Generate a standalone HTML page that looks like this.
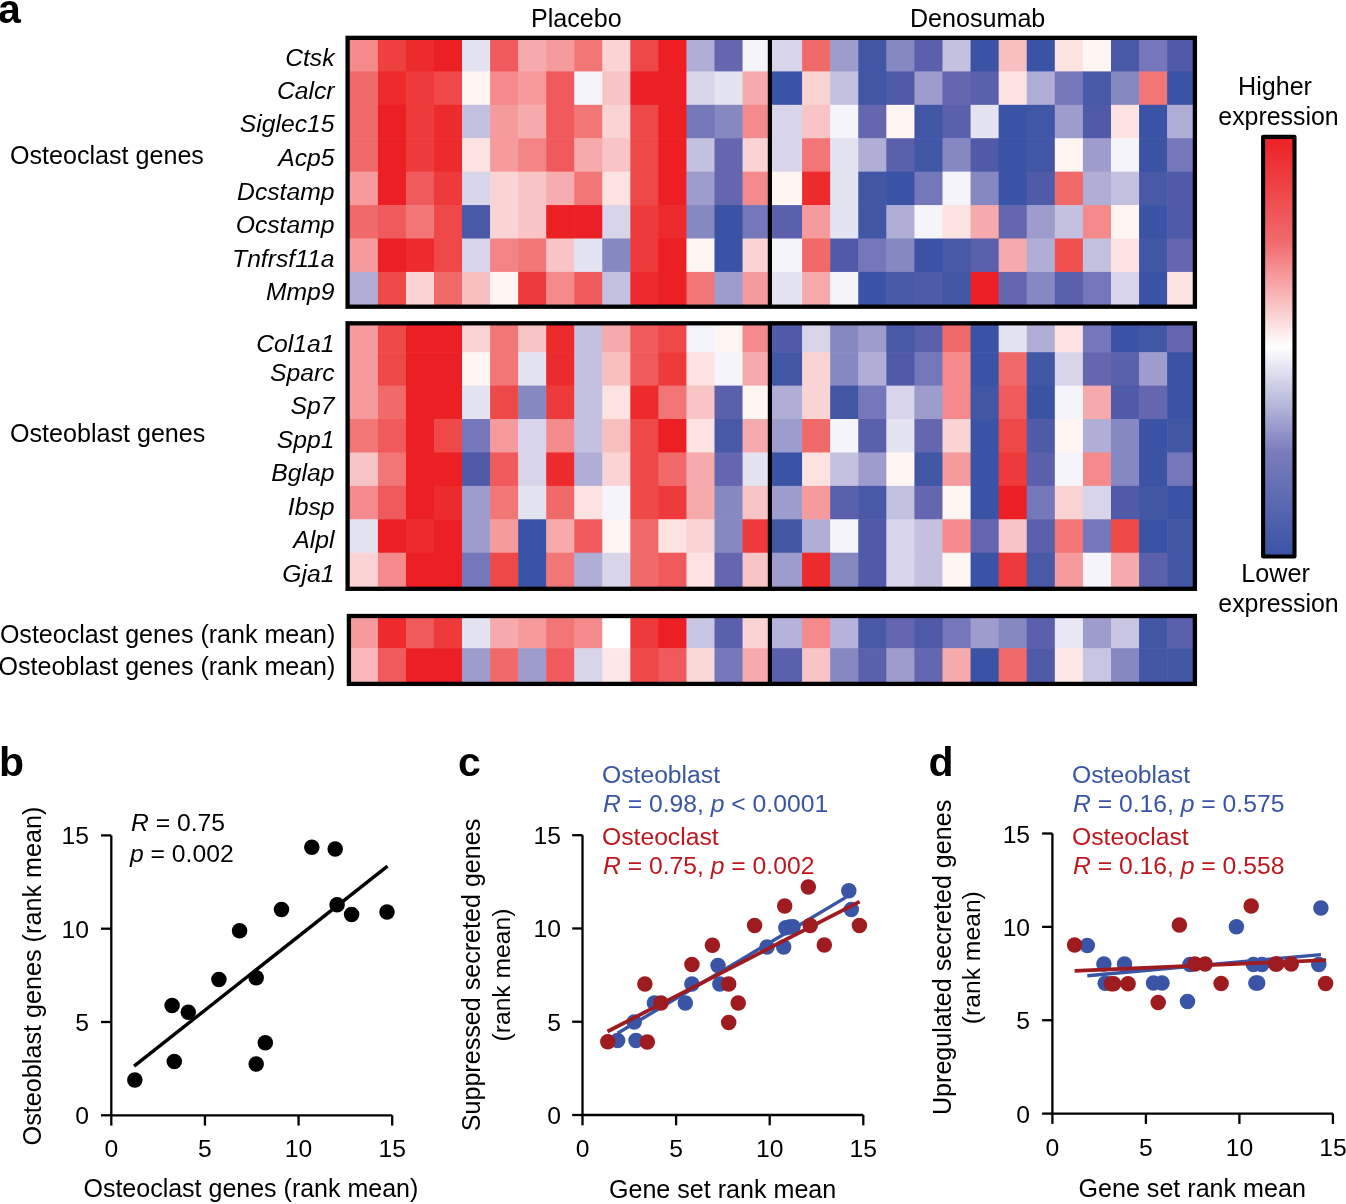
<!DOCTYPE html>
<html><head><meta charset="utf-8"><title>Figure</title>
<style>html,body{margin:0;padding:0;background:#fff;width:1346px;height:1204px;overflow:hidden;position:relative}svg text{font-family:"Liberation Sans",sans-serif}</style>
</head><body>
<svg width="1346" height="1204" viewBox="0 0 1346 1204" style="position:absolute;left:0;top:0;will-change:transform" font-family='"Liberation Sans", sans-serif' font-size="24.7">
<rect width="1346" height="1204" fill="#fff"/>
<rect x="347.00" y="38.00" width="31.50" height="34.00" fill="#f48a8c"/>
<rect x="377.90" y="38.00" width="28.65" height="34.00" fill="#ef4040"/>
<rect x="405.95" y="38.00" width="28.65" height="34.00" fill="#ed2a2c"/>
<rect x="434.00" y="38.00" width="28.65" height="34.00" fill="#ec2024"/>
<rect x="462.05" y="38.00" width="28.65" height="34.00" fill="#e4e3f2"/>
<rect x="490.10" y="38.00" width="28.65" height="34.00" fill="#f05a5c"/>
<rect x="518.15" y="38.00" width="28.65" height="34.00" fill="#f6aaac"/>
<rect x="546.20" y="38.00" width="28.65" height="34.00" fill="#f59b9d"/>
<rect x="574.25" y="38.00" width="28.65" height="34.00" fill="#f27676"/>
<rect x="602.30" y="38.00" width="28.65" height="34.00" fill="#fad4d4"/>
<rect x="630.35" y="38.00" width="28.65" height="34.00" fill="#ef4848"/>
<rect x="658.40" y="38.00" width="28.65" height="34.00" fill="#ec2024"/>
<rect x="686.45" y="38.00" width="28.65" height="34.00" fill="#b0aed6"/>
<rect x="714.50" y="38.00" width="28.65" height="34.00" fill="#6466b0"/>
<rect x="742.55" y="38.00" width="29.45" height="34.00" fill="#f5f4fa"/>
<rect x="768.00" y="38.00" width="34.70" height="34.00" fill="#d8d5ea"/>
<rect x="802.10" y="38.00" width="28.68" height="34.00" fill="#f06a6a"/>
<rect x="830.18" y="38.00" width="28.68" height="34.00" fill="#9e9ccc"/>
<rect x="858.26" y="38.00" width="28.68" height="34.00" fill="#4256a6"/>
<rect x="886.34" y="38.00" width="28.68" height="34.00" fill="#8688c2"/>
<rect x="914.42" y="38.00" width="28.68" height="34.00" fill="#5a60ac"/>
<rect x="942.50" y="38.00" width="28.68" height="34.00" fill="#c4c0df"/>
<rect x="970.58" y="38.00" width="28.68" height="34.00" fill="#3a53a4"/>
<rect x="998.66" y="38.00" width="28.68" height="34.00" fill="#f8bfc1"/>
<rect x="1026.74" y="38.00" width="28.68" height="34.00" fill="#3a53a4"/>
<rect x="1054.82" y="38.00" width="28.68" height="34.00" fill="#fde2e2"/>
<rect x="1082.90" y="38.00" width="28.68" height="34.00" fill="#fff5f3"/>
<rect x="1110.98" y="38.00" width="28.68" height="34.00" fill="#4a58a8"/>
<rect x="1139.06" y="38.00" width="28.68" height="34.00" fill="#7477b9"/>
<rect x="1167.14" y="38.00" width="27.86" height="34.00" fill="#4f5aa9"/>
<rect x="347.00" y="71.40" width="31.50" height="34.02" fill="#f06a6a"/>
<rect x="377.90" y="71.40" width="28.65" height="34.02" fill="#ed2a2c"/>
<rect x="405.95" y="71.40" width="28.65" height="34.02" fill="#ee3a3a"/>
<rect x="434.00" y="71.40" width="28.65" height="34.02" fill="#ef4848"/>
<rect x="462.05" y="71.40" width="28.65" height="34.02" fill="#fff5f3"/>
<rect x="490.10" y="71.40" width="28.65" height="34.02" fill="#f48a8c"/>
<rect x="518.15" y="71.40" width="28.65" height="34.02" fill="#f59b9d"/>
<rect x="546.20" y="71.40" width="28.65" height="34.02" fill="#f05a5c"/>
<rect x="574.25" y="71.40" width="28.65" height="34.02" fill="#f5f4fa"/>
<rect x="602.30" y="71.40" width="28.65" height="34.02" fill="#f8c4c5"/>
<rect x="630.35" y="71.40" width="28.65" height="34.02" fill="#ec2024"/>
<rect x="658.40" y="71.40" width="28.65" height="34.02" fill="#ec2024"/>
<rect x="686.45" y="71.40" width="28.65" height="34.02" fill="#d8d5ea"/>
<rect x="714.50" y="71.40" width="28.65" height="34.02" fill="#e4e3f2"/>
<rect x="742.55" y="71.40" width="29.45" height="34.02" fill="#f6aaac"/>
<rect x="768.00" y="71.40" width="34.70" height="34.02" fill="#3a53a4"/>
<rect x="802.10" y="71.40" width="28.68" height="34.02" fill="#fad4d4"/>
<rect x="830.18" y="71.40" width="28.68" height="34.02" fill="#c4c0df"/>
<rect x="858.26" y="71.40" width="28.68" height="34.02" fill="#4256a6"/>
<rect x="886.34" y="71.40" width="28.68" height="34.02" fill="#4f5aa9"/>
<rect x="914.42" y="71.40" width="28.68" height="34.02" fill="#9e9ccc"/>
<rect x="942.50" y="71.40" width="28.68" height="34.02" fill="#6466b0"/>
<rect x="970.58" y="71.40" width="28.68" height="34.02" fill="#5a60ac"/>
<rect x="998.66" y="71.40" width="28.68" height="34.02" fill="#fde2e2"/>
<rect x="1026.74" y="71.40" width="28.68" height="34.02" fill="#b0aed6"/>
<rect x="1054.82" y="71.40" width="28.68" height="34.02" fill="#7477b9"/>
<rect x="1082.90" y="71.40" width="28.68" height="34.02" fill="#4a58a8"/>
<rect x="1110.98" y="71.40" width="28.68" height="34.02" fill="#8688c2"/>
<rect x="1139.06" y="71.40" width="28.68" height="34.02" fill="#f27676"/>
<rect x="1167.14" y="71.40" width="27.86" height="34.02" fill="#3a53a4"/>
<rect x="347.00" y="104.82" width="31.50" height="34.02" fill="#f06a6a"/>
<rect x="377.90" y="104.82" width="28.65" height="34.02" fill="#ec2024"/>
<rect x="405.95" y="104.82" width="28.65" height="34.02" fill="#ee3a3a"/>
<rect x="434.00" y="104.82" width="28.65" height="34.02" fill="#ed2a2c"/>
<rect x="462.05" y="104.82" width="28.65" height="34.02" fill="#c4c0df"/>
<rect x="490.10" y="104.82" width="28.65" height="34.02" fill="#f59b9d"/>
<rect x="518.15" y="104.82" width="28.65" height="34.02" fill="#f6aaac"/>
<rect x="546.20" y="104.82" width="28.65" height="34.02" fill="#f05a5c"/>
<rect x="574.25" y="104.82" width="28.65" height="34.02" fill="#f27676"/>
<rect x="602.30" y="104.82" width="28.65" height="34.02" fill="#fad4d4"/>
<rect x="630.35" y="104.82" width="28.65" height="34.02" fill="#ef4848"/>
<rect x="658.40" y="104.82" width="28.65" height="34.02" fill="#ec2024"/>
<rect x="686.45" y="104.82" width="28.65" height="34.02" fill="#7477b9"/>
<rect x="714.50" y="104.82" width="28.65" height="34.02" fill="#8688c2"/>
<rect x="742.55" y="104.82" width="29.45" height="34.02" fill="#f48a8c"/>
<rect x="768.00" y="104.82" width="34.70" height="34.02" fill="#d8d5ea"/>
<rect x="802.10" y="104.82" width="28.68" height="34.02" fill="#f8c4c5"/>
<rect x="830.18" y="104.82" width="28.68" height="34.02" fill="#f5f4fa"/>
<rect x="858.26" y="104.82" width="28.68" height="34.02" fill="#6466b0"/>
<rect x="886.34" y="104.82" width="28.68" height="34.02" fill="#fff5f3"/>
<rect x="914.42" y="104.82" width="28.68" height="34.02" fill="#4256a6"/>
<rect x="942.50" y="104.82" width="28.68" height="34.02" fill="#5a60ac"/>
<rect x="970.58" y="104.82" width="28.68" height="34.02" fill="#e4e3f2"/>
<rect x="998.66" y="104.82" width="28.68" height="34.02" fill="#3a53a4"/>
<rect x="1026.74" y="104.82" width="28.68" height="34.02" fill="#4256a6"/>
<rect x="1054.82" y="104.82" width="28.68" height="34.02" fill="#9e9ccc"/>
<rect x="1082.90" y="104.82" width="28.68" height="34.02" fill="#4f5aa9"/>
<rect x="1110.98" y="104.82" width="28.68" height="34.02" fill="#fde2e2"/>
<rect x="1139.06" y="104.82" width="28.68" height="34.02" fill="#3a53a4"/>
<rect x="1167.14" y="104.82" width="27.86" height="34.02" fill="#b0aed6"/>
<rect x="347.00" y="138.24" width="31.50" height="34.02" fill="#f06a6a"/>
<rect x="377.90" y="138.24" width="28.65" height="34.02" fill="#ec2024"/>
<rect x="405.95" y="138.24" width="28.65" height="34.02" fill="#ee3a3a"/>
<rect x="434.00" y="138.24" width="28.65" height="34.02" fill="#ed2a2c"/>
<rect x="462.05" y="138.24" width="28.65" height="34.02" fill="#fde2e2"/>
<rect x="490.10" y="138.24" width="28.65" height="34.02" fill="#f59b9d"/>
<rect x="518.15" y="138.24" width="28.65" height="34.02" fill="#f38485"/>
<rect x="546.20" y="138.24" width="28.65" height="34.02" fill="#f05a5c"/>
<rect x="574.25" y="138.24" width="28.65" height="34.02" fill="#f6aaac"/>
<rect x="602.30" y="138.24" width="28.65" height="34.02" fill="#f8c4c5"/>
<rect x="630.35" y="138.24" width="28.65" height="34.02" fill="#ef4848"/>
<rect x="658.40" y="138.24" width="28.65" height="34.02" fill="#ec2024"/>
<rect x="686.45" y="138.24" width="28.65" height="34.02" fill="#c4c0df"/>
<rect x="714.50" y="138.24" width="28.65" height="34.02" fill="#6466b0"/>
<rect x="742.55" y="138.24" width="29.45" height="34.02" fill="#fad4d4"/>
<rect x="768.00" y="138.24" width="34.70" height="34.02" fill="#d8d5ea"/>
<rect x="802.10" y="138.24" width="28.68" height="34.02" fill="#f27676"/>
<rect x="830.18" y="138.24" width="28.68" height="34.02" fill="#e4e3f2"/>
<rect x="858.26" y="138.24" width="28.68" height="34.02" fill="#b0aed6"/>
<rect x="886.34" y="138.24" width="28.68" height="34.02" fill="#5a60ac"/>
<rect x="914.42" y="138.24" width="28.68" height="34.02" fill="#4256a6"/>
<rect x="942.50" y="138.24" width="28.68" height="34.02" fill="#8688c2"/>
<rect x="970.58" y="138.24" width="28.68" height="34.02" fill="#4f5aa9"/>
<rect x="998.66" y="138.24" width="28.68" height="34.02" fill="#3a53a4"/>
<rect x="1026.74" y="138.24" width="28.68" height="34.02" fill="#4256a6"/>
<rect x="1054.82" y="138.24" width="28.68" height="34.02" fill="#fff5f3"/>
<rect x="1082.90" y="138.24" width="28.68" height="34.02" fill="#9e9ccc"/>
<rect x="1110.98" y="138.24" width="28.68" height="34.02" fill="#f5f4fa"/>
<rect x="1139.06" y="138.24" width="28.68" height="34.02" fill="#3a53a4"/>
<rect x="1167.14" y="138.24" width="27.86" height="34.02" fill="#7477b9"/>
<rect x="347.00" y="171.66" width="31.50" height="34.02" fill="#f59b9d"/>
<rect x="377.90" y="171.66" width="28.65" height="34.02" fill="#ec2024"/>
<rect x="405.95" y="171.66" width="28.65" height="34.02" fill="#f05a5c"/>
<rect x="434.00" y="171.66" width="28.65" height="34.02" fill="#ee3a3a"/>
<rect x="462.05" y="171.66" width="28.65" height="34.02" fill="#d8d5ea"/>
<rect x="490.10" y="171.66" width="28.65" height="34.02" fill="#fad4d4"/>
<rect x="518.15" y="171.66" width="28.65" height="34.02" fill="#f8c4c5"/>
<rect x="546.20" y="171.66" width="28.65" height="34.02" fill="#f6adaf"/>
<rect x="574.25" y="171.66" width="28.65" height="34.02" fill="#f27676"/>
<rect x="602.30" y="171.66" width="28.65" height="34.02" fill="#fde2e2"/>
<rect x="630.35" y="171.66" width="28.65" height="34.02" fill="#ef4848"/>
<rect x="658.40" y="171.66" width="28.65" height="34.02" fill="#ec2024"/>
<rect x="686.45" y="171.66" width="28.65" height="34.02" fill="#9e9ccc"/>
<rect x="714.50" y="171.66" width="28.65" height="34.02" fill="#6466b0"/>
<rect x="742.55" y="171.66" width="29.45" height="34.02" fill="#f48a8c"/>
<rect x="768.00" y="171.66" width="34.70" height="34.02" fill="#fff5f3"/>
<rect x="802.10" y="171.66" width="28.68" height="34.02" fill="#ed2a2c"/>
<rect x="830.18" y="171.66" width="28.68" height="34.02" fill="#e4e3f2"/>
<rect x="858.26" y="171.66" width="28.68" height="34.02" fill="#4256a6"/>
<rect x="886.34" y="171.66" width="28.68" height="34.02" fill="#3a53a4"/>
<rect x="914.42" y="171.66" width="28.68" height="34.02" fill="#7477b9"/>
<rect x="942.50" y="171.66" width="28.68" height="34.02" fill="#f5f4fa"/>
<rect x="970.58" y="171.66" width="28.68" height="34.02" fill="#8688c2"/>
<rect x="998.66" y="171.66" width="28.68" height="34.02" fill="#3a53a4"/>
<rect x="1026.74" y="171.66" width="28.68" height="34.02" fill="#4f5aa9"/>
<rect x="1054.82" y="171.66" width="28.68" height="34.02" fill="#f06a6a"/>
<rect x="1082.90" y="171.66" width="28.68" height="34.02" fill="#b0aed6"/>
<rect x="1110.98" y="171.66" width="28.68" height="34.02" fill="#c4c0df"/>
<rect x="1139.06" y="171.66" width="28.68" height="34.02" fill="#4a58a8"/>
<rect x="1167.14" y="171.66" width="27.86" height="34.02" fill="#4f5aa9"/>
<rect x="347.00" y="205.08" width="31.50" height="34.02" fill="#f06a6a"/>
<rect x="377.90" y="205.08" width="28.65" height="34.02" fill="#f05a5c"/>
<rect x="405.95" y="205.08" width="28.65" height="34.02" fill="#f27676"/>
<rect x="434.00" y="205.08" width="28.65" height="34.02" fill="#ef4848"/>
<rect x="462.05" y="205.08" width="28.65" height="34.02" fill="#4a58a8"/>
<rect x="490.10" y="205.08" width="28.65" height="34.02" fill="#fad4d4"/>
<rect x="518.15" y="205.08" width="28.65" height="34.02" fill="#f8c4c5"/>
<rect x="546.20" y="205.08" width="28.65" height="34.02" fill="#ec2024"/>
<rect x="574.25" y="205.08" width="28.65" height="34.02" fill="#ec2024"/>
<rect x="602.30" y="205.08" width="28.65" height="34.02" fill="#d8d5ea"/>
<rect x="630.35" y="205.08" width="28.65" height="34.02" fill="#ee3a3a"/>
<rect x="658.40" y="205.08" width="28.65" height="34.02" fill="#ed2a2c"/>
<rect x="686.45" y="205.08" width="28.65" height="34.02" fill="#8688c2"/>
<rect x="714.50" y="205.08" width="28.65" height="34.02" fill="#3a53a4"/>
<rect x="742.55" y="205.08" width="29.45" height="34.02" fill="#7477b9"/>
<rect x="768.00" y="205.08" width="34.70" height="34.02" fill="#5a60ac"/>
<rect x="802.10" y="205.08" width="28.68" height="34.02" fill="#f59b9d"/>
<rect x="830.18" y="205.08" width="28.68" height="34.02" fill="#e4e3f2"/>
<rect x="858.26" y="205.08" width="28.68" height="34.02" fill="#4256a6"/>
<rect x="886.34" y="205.08" width="28.68" height="34.02" fill="#b0aed6"/>
<rect x="914.42" y="205.08" width="28.68" height="34.02" fill="#f5f4fa"/>
<rect x="942.50" y="205.08" width="28.68" height="34.02" fill="#fde2e2"/>
<rect x="970.58" y="205.08" width="28.68" height="34.02" fill="#f6aaac"/>
<rect x="998.66" y="205.08" width="28.68" height="34.02" fill="#6466b0"/>
<rect x="1026.74" y="205.08" width="28.68" height="34.02" fill="#9e9ccc"/>
<rect x="1054.82" y="205.08" width="28.68" height="34.02" fill="#c4c0df"/>
<rect x="1082.90" y="205.08" width="28.68" height="34.02" fill="#f48a8c"/>
<rect x="1110.98" y="205.08" width="28.68" height="34.02" fill="#fff5f3"/>
<rect x="1139.06" y="205.08" width="28.68" height="34.02" fill="#3a53a4"/>
<rect x="1167.14" y="205.08" width="27.86" height="34.02" fill="#4f5aa9"/>
<rect x="347.00" y="238.50" width="31.50" height="34.02" fill="#f59b9d"/>
<rect x="377.90" y="238.50" width="28.65" height="34.02" fill="#ec2024"/>
<rect x="405.95" y="238.50" width="28.65" height="34.02" fill="#ed2a2c"/>
<rect x="434.00" y="238.50" width="28.65" height="34.02" fill="#ef4848"/>
<rect x="462.05" y="238.50" width="28.65" height="34.02" fill="#d8d5ea"/>
<rect x="490.10" y="238.50" width="28.65" height="34.02" fill="#f38485"/>
<rect x="518.15" y="238.50" width="28.65" height="34.02" fill="#f27676"/>
<rect x="546.20" y="238.50" width="28.65" height="34.02" fill="#f8c4c5"/>
<rect x="574.25" y="238.50" width="28.65" height="34.02" fill="#e4e3f2"/>
<rect x="602.30" y="238.50" width="28.65" height="34.02" fill="#8688c2"/>
<rect x="630.35" y="238.50" width="28.65" height="34.02" fill="#ee3a3a"/>
<rect x="658.40" y="238.50" width="28.65" height="34.02" fill="#ec2024"/>
<rect x="686.45" y="238.50" width="28.65" height="34.02" fill="#fff5f3"/>
<rect x="714.50" y="238.50" width="28.65" height="34.02" fill="#3a53a4"/>
<rect x="742.55" y="238.50" width="29.45" height="34.02" fill="#fad4d4"/>
<rect x="768.00" y="238.50" width="34.70" height="34.02" fill="#f5f4fa"/>
<rect x="802.10" y="238.50" width="28.68" height="34.02" fill="#f06a6a"/>
<rect x="830.18" y="238.50" width="28.68" height="34.02" fill="#4f5aa9"/>
<rect x="858.26" y="238.50" width="28.68" height="34.02" fill="#7477b9"/>
<rect x="886.34" y="238.50" width="28.68" height="34.02" fill="#8688c2"/>
<rect x="914.42" y="238.50" width="28.68" height="34.02" fill="#3a53a4"/>
<rect x="942.50" y="238.50" width="28.68" height="34.02" fill="#4a58a8"/>
<rect x="970.58" y="238.50" width="28.68" height="34.02" fill="#5a60ac"/>
<rect x="998.66" y="238.50" width="28.68" height="34.02" fill="#f6aaac"/>
<rect x="1026.74" y="238.50" width="28.68" height="34.02" fill="#b0aed6"/>
<rect x="1054.82" y="238.50" width="28.68" height="34.02" fill="#f05050"/>
<rect x="1082.90" y="238.50" width="28.68" height="34.02" fill="#c4c0df"/>
<rect x="1110.98" y="238.50" width="28.68" height="34.02" fill="#fde2e2"/>
<rect x="1139.06" y="238.50" width="28.68" height="34.02" fill="#4256a6"/>
<rect x="1167.14" y="238.50" width="27.86" height="34.02" fill="#6466b0"/>
<rect x="347.00" y="271.92" width="31.50" height="34.08" fill="#b0aed6"/>
<rect x="377.90" y="271.92" width="28.65" height="34.08" fill="#ef4848"/>
<rect x="405.95" y="271.92" width="28.65" height="34.08" fill="#fad4d4"/>
<rect x="434.00" y="271.92" width="28.65" height="34.08" fill="#f06a6a"/>
<rect x="462.05" y="271.92" width="28.65" height="34.08" fill="#f8bfc1"/>
<rect x="490.10" y="271.92" width="28.65" height="34.08" fill="#fff5f3"/>
<rect x="518.15" y="271.92" width="28.65" height="34.08" fill="#ee3a3a"/>
<rect x="546.20" y="271.92" width="28.65" height="34.08" fill="#f48a8c"/>
<rect x="574.25" y="271.92" width="28.65" height="34.08" fill="#f05a5c"/>
<rect x="602.30" y="271.92" width="28.65" height="34.08" fill="#c4c0df"/>
<rect x="630.35" y="271.92" width="28.65" height="34.08" fill="#ed2a2c"/>
<rect x="658.40" y="271.92" width="28.65" height="34.08" fill="#ec2024"/>
<rect x="686.45" y="271.92" width="28.65" height="34.08" fill="#f27676"/>
<rect x="714.50" y="271.92" width="28.65" height="34.08" fill="#9e9ccc"/>
<rect x="742.55" y="271.92" width="29.45" height="34.08" fill="#f59b9d"/>
<rect x="768.00" y="271.92" width="34.70" height="34.08" fill="#e4e3f2"/>
<rect x="802.10" y="271.92" width="28.68" height="34.08" fill="#f6aaac"/>
<rect x="830.18" y="271.92" width="28.68" height="34.08" fill="#f5f4fa"/>
<rect x="858.26" y="271.92" width="28.68" height="34.08" fill="#3a53a4"/>
<rect x="886.34" y="271.92" width="28.68" height="34.08" fill="#4a58a8"/>
<rect x="914.42" y="271.92" width="28.68" height="34.08" fill="#4f5aa9"/>
<rect x="942.50" y="271.92" width="28.68" height="34.08" fill="#4256a6"/>
<rect x="970.58" y="271.92" width="28.68" height="34.08" fill="#ec2024"/>
<rect x="998.66" y="271.92" width="28.68" height="34.08" fill="#6466b0"/>
<rect x="1026.74" y="271.92" width="28.68" height="34.08" fill="#8688c2"/>
<rect x="1054.82" y="271.92" width="28.68" height="34.08" fill="#5a60ac"/>
<rect x="1082.90" y="271.92" width="28.68" height="34.08" fill="#7477b9"/>
<rect x="1110.98" y="271.92" width="28.68" height="34.08" fill="#d8d5ea"/>
<rect x="1139.06" y="271.92" width="28.68" height="34.08" fill="#3a53a4"/>
<rect x="1167.14" y="271.92" width="27.86" height="34.08" fill="#fde2e2"/>
<rect x="347.60" y="37.85" width="847.30" height="268.85" fill="none" stroke="#000" stroke-width="4.3"/>
<line x1="769.9" y1="37.85" x2="769.9" y2="306.70" stroke="#000" stroke-width="4.2"/>
<rect x="347.00" y="323.00" width="31.50" height="29.80" fill="#f59b9d"/>
<rect x="377.90" y="323.00" width="28.65" height="29.80" fill="#ef4848"/>
<rect x="405.95" y="323.00" width="28.65" height="29.80" fill="#ec2024"/>
<rect x="434.00" y="323.00" width="28.65" height="29.80" fill="#ec2024"/>
<rect x="462.05" y="323.00" width="28.65" height="29.80" fill="#fad4d4"/>
<rect x="490.10" y="323.00" width="28.65" height="29.80" fill="#f27676"/>
<rect x="518.15" y="323.00" width="28.65" height="29.80" fill="#f8c4c5"/>
<rect x="546.20" y="323.00" width="28.65" height="29.80" fill="#ed2a2c"/>
<rect x="574.25" y="323.00" width="28.65" height="29.80" fill="#c4c0df"/>
<rect x="602.30" y="323.00" width="28.65" height="29.80" fill="#f6aaac"/>
<rect x="630.35" y="323.00" width="28.65" height="29.80" fill="#f05a5c"/>
<rect x="658.40" y="323.00" width="28.65" height="29.80" fill="#ef4848"/>
<rect x="686.45" y="323.00" width="28.65" height="29.80" fill="#f5f4fa"/>
<rect x="714.50" y="323.00" width="28.65" height="29.80" fill="#fff5f3"/>
<rect x="742.55" y="323.00" width="29.45" height="29.80" fill="#f48a8c"/>
<rect x="768.00" y="323.00" width="34.70" height="29.80" fill="#4f5aa9"/>
<rect x="802.10" y="323.00" width="28.68" height="29.80" fill="#d8d5ea"/>
<rect x="830.18" y="323.00" width="28.68" height="29.80" fill="#8688c2"/>
<rect x="858.26" y="323.00" width="28.68" height="29.80" fill="#9e9ccc"/>
<rect x="886.34" y="323.00" width="28.68" height="29.80" fill="#4a58a8"/>
<rect x="914.42" y="323.00" width="28.68" height="29.80" fill="#5a60ac"/>
<rect x="942.50" y="323.00" width="28.68" height="29.80" fill="#f06a6a"/>
<rect x="970.58" y="323.00" width="28.68" height="29.80" fill="#3a53a4"/>
<rect x="998.66" y="323.00" width="28.68" height="29.80" fill="#e4e3f2"/>
<rect x="1026.74" y="323.00" width="28.68" height="29.80" fill="#b0aed6"/>
<rect x="1054.82" y="323.00" width="28.68" height="29.80" fill="#fde2e2"/>
<rect x="1082.90" y="323.00" width="28.68" height="29.80" fill="#7477b9"/>
<rect x="1110.98" y="323.00" width="28.68" height="29.80" fill="#3a53a4"/>
<rect x="1139.06" y="323.00" width="28.68" height="29.80" fill="#4256a6"/>
<rect x="1167.14" y="323.00" width="27.86" height="29.80" fill="#6466b0"/>
<rect x="347.00" y="352.20" width="31.50" height="34.02" fill="#f59b9d"/>
<rect x="377.90" y="352.20" width="28.65" height="34.02" fill="#ef4848"/>
<rect x="405.95" y="352.20" width="28.65" height="34.02" fill="#ec2024"/>
<rect x="434.00" y="352.20" width="28.65" height="34.02" fill="#ec2024"/>
<rect x="462.05" y="352.20" width="28.65" height="34.02" fill="#fff5f3"/>
<rect x="490.10" y="352.20" width="28.65" height="34.02" fill="#f27676"/>
<rect x="518.15" y="352.20" width="28.65" height="34.02" fill="#e4e3f2"/>
<rect x="546.20" y="352.20" width="28.65" height="34.02" fill="#ed2a2c"/>
<rect x="574.25" y="352.20" width="28.65" height="34.02" fill="#c4c0df"/>
<rect x="602.30" y="352.20" width="28.65" height="34.02" fill="#f8bfc1"/>
<rect x="630.35" y="352.20" width="28.65" height="34.02" fill="#f05a5c"/>
<rect x="658.40" y="352.20" width="28.65" height="34.02" fill="#ee3a3a"/>
<rect x="686.45" y="352.20" width="28.65" height="34.02" fill="#fde2e2"/>
<rect x="714.50" y="352.20" width="28.65" height="34.02" fill="#f5f4fa"/>
<rect x="742.55" y="352.20" width="29.45" height="34.02" fill="#f6aaac"/>
<rect x="768.00" y="352.20" width="34.70" height="34.02" fill="#4256a6"/>
<rect x="802.10" y="352.20" width="28.68" height="34.02" fill="#fad4d4"/>
<rect x="830.18" y="352.20" width="28.68" height="34.02" fill="#8688c2"/>
<rect x="858.26" y="352.20" width="28.68" height="34.02" fill="#b0aed6"/>
<rect x="886.34" y="352.20" width="28.68" height="34.02" fill="#4f5aa9"/>
<rect x="914.42" y="352.20" width="28.68" height="34.02" fill="#7477b9"/>
<rect x="942.50" y="352.20" width="28.68" height="34.02" fill="#f48a8c"/>
<rect x="970.58" y="352.20" width="28.68" height="34.02" fill="#3a53a4"/>
<rect x="998.66" y="352.20" width="28.68" height="34.02" fill="#f06a6a"/>
<rect x="1026.74" y="352.20" width="28.68" height="34.02" fill="#4256a6"/>
<rect x="1054.82" y="352.20" width="28.68" height="34.02" fill="#d8d5ea"/>
<rect x="1082.90" y="352.20" width="28.68" height="34.02" fill="#6466b0"/>
<rect x="1110.98" y="352.20" width="28.68" height="34.02" fill="#5a60ac"/>
<rect x="1139.06" y="352.20" width="28.68" height="34.02" fill="#9e9ccc"/>
<rect x="1167.14" y="352.20" width="27.86" height="34.02" fill="#3a53a4"/>
<rect x="347.00" y="385.62" width="31.50" height="34.02" fill="#f59b9d"/>
<rect x="377.90" y="385.62" width="28.65" height="34.02" fill="#f06a6a"/>
<rect x="405.95" y="385.62" width="28.65" height="34.02" fill="#ec2024"/>
<rect x="434.00" y="385.62" width="28.65" height="34.02" fill="#ec2024"/>
<rect x="462.05" y="385.62" width="28.65" height="34.02" fill="#e4e3f2"/>
<rect x="490.10" y="385.62" width="28.65" height="34.02" fill="#ef4848"/>
<rect x="518.15" y="385.62" width="28.65" height="34.02" fill="#8688c2"/>
<rect x="546.20" y="385.62" width="28.65" height="34.02" fill="#ee3a3a"/>
<rect x="574.25" y="385.62" width="28.65" height="34.02" fill="#c4c0df"/>
<rect x="602.30" y="385.62" width="28.65" height="34.02" fill="#fde2e2"/>
<rect x="630.35" y="385.62" width="28.65" height="34.02" fill="#ed2a2c"/>
<rect x="658.40" y="385.62" width="28.65" height="34.02" fill="#f27676"/>
<rect x="686.45" y="385.62" width="28.65" height="34.02" fill="#f8c4c5"/>
<rect x="714.50" y="385.62" width="28.65" height="34.02" fill="#5a60ac"/>
<rect x="742.55" y="385.62" width="29.45" height="34.02" fill="#fff5f3"/>
<rect x="768.00" y="385.62" width="34.70" height="34.02" fill="#b0aed6"/>
<rect x="802.10" y="385.62" width="28.68" height="34.02" fill="#fad4d4"/>
<rect x="830.18" y="385.62" width="28.68" height="34.02" fill="#4256a6"/>
<rect x="858.26" y="385.62" width="28.68" height="34.02" fill="#7477b9"/>
<rect x="886.34" y="385.62" width="28.68" height="34.02" fill="#d8d5ea"/>
<rect x="914.42" y="385.62" width="28.68" height="34.02" fill="#9e9ccc"/>
<rect x="942.50" y="385.62" width="28.68" height="34.02" fill="#f48a8c"/>
<rect x="970.58" y="385.62" width="28.68" height="34.02" fill="#4256a6"/>
<rect x="998.66" y="385.62" width="28.68" height="34.02" fill="#f05a5c"/>
<rect x="1026.74" y="385.62" width="28.68" height="34.02" fill="#3a53a4"/>
<rect x="1054.82" y="385.62" width="28.68" height="34.02" fill="#f5f4fa"/>
<rect x="1082.90" y="385.62" width="28.68" height="34.02" fill="#f6aaac"/>
<rect x="1110.98" y="385.62" width="28.68" height="34.02" fill="#4f5aa9"/>
<rect x="1139.06" y="385.62" width="28.68" height="34.02" fill="#6466b0"/>
<rect x="1167.14" y="385.62" width="27.86" height="34.02" fill="#3a53a4"/>
<rect x="347.00" y="419.04" width="31.50" height="34.02" fill="#f27676"/>
<rect x="377.90" y="419.04" width="28.65" height="34.02" fill="#f05a5c"/>
<rect x="405.95" y="419.04" width="28.65" height="34.02" fill="#ec2024"/>
<rect x="434.00" y="419.04" width="28.65" height="34.02" fill="#ef4848"/>
<rect x="462.05" y="419.04" width="28.65" height="34.02" fill="#7477b9"/>
<rect x="490.10" y="419.04" width="28.65" height="34.02" fill="#f59b9d"/>
<rect x="518.15" y="419.04" width="28.65" height="34.02" fill="#d8d5ea"/>
<rect x="546.20" y="419.04" width="28.65" height="34.02" fill="#f48a8c"/>
<rect x="574.25" y="419.04" width="28.65" height="34.02" fill="#c4c0df"/>
<rect x="602.30" y="419.04" width="28.65" height="34.02" fill="#f8bfc1"/>
<rect x="630.35" y="419.04" width="28.65" height="34.02" fill="#ef4848"/>
<rect x="658.40" y="419.04" width="28.65" height="34.02" fill="#ec2024"/>
<rect x="686.45" y="419.04" width="28.65" height="34.02" fill="#fde2e2"/>
<rect x="714.50" y="419.04" width="28.65" height="34.02" fill="#4a58a8"/>
<rect x="742.55" y="419.04" width="29.45" height="34.02" fill="#f6aaac"/>
<rect x="768.00" y="419.04" width="34.70" height="34.02" fill="#9e9ccc"/>
<rect x="802.10" y="419.04" width="28.68" height="34.02" fill="#f06a6a"/>
<rect x="830.18" y="419.04" width="28.68" height="34.02" fill="#f5f4fa"/>
<rect x="858.26" y="419.04" width="28.68" height="34.02" fill="#5a60ac"/>
<rect x="886.34" y="419.04" width="28.68" height="34.02" fill="#e4e3f2"/>
<rect x="914.42" y="419.04" width="28.68" height="34.02" fill="#6466b0"/>
<rect x="942.50" y="419.04" width="28.68" height="34.02" fill="#fad4d4"/>
<rect x="970.58" y="419.04" width="28.68" height="34.02" fill="#3a53a4"/>
<rect x="998.66" y="419.04" width="28.68" height="34.02" fill="#ef4848"/>
<rect x="1026.74" y="419.04" width="28.68" height="34.02" fill="#4f5aa9"/>
<rect x="1054.82" y="419.04" width="28.68" height="34.02" fill="#fff5f3"/>
<rect x="1082.90" y="419.04" width="28.68" height="34.02" fill="#b0aed6"/>
<rect x="1110.98" y="419.04" width="28.68" height="34.02" fill="#8688c2"/>
<rect x="1139.06" y="419.04" width="28.68" height="34.02" fill="#3a53a4"/>
<rect x="1167.14" y="419.04" width="27.86" height="34.02" fill="#4256a6"/>
<rect x="347.00" y="452.46" width="31.50" height="34.02" fill="#f8c4c5"/>
<rect x="377.90" y="452.46" width="28.65" height="34.02" fill="#f27676"/>
<rect x="405.95" y="452.46" width="28.65" height="34.02" fill="#ec2024"/>
<rect x="434.00" y="452.46" width="28.65" height="34.02" fill="#ec2024"/>
<rect x="462.05" y="452.46" width="28.65" height="34.02" fill="#4f5aa9"/>
<rect x="490.10" y="452.46" width="28.65" height="34.02" fill="#f05a5c"/>
<rect x="518.15" y="452.46" width="28.65" height="34.02" fill="#d8d5ea"/>
<rect x="546.20" y="452.46" width="28.65" height="34.02" fill="#ed2a2c"/>
<rect x="574.25" y="452.46" width="28.65" height="34.02" fill="#b0aed6"/>
<rect x="602.30" y="452.46" width="28.65" height="34.02" fill="#fad4d4"/>
<rect x="630.35" y="452.46" width="28.65" height="34.02" fill="#ef4848"/>
<rect x="658.40" y="452.46" width="28.65" height="34.02" fill="#f06a6a"/>
<rect x="686.45" y="452.46" width="28.65" height="34.02" fill="#f6aaac"/>
<rect x="714.50" y="452.46" width="28.65" height="34.02" fill="#6466b0"/>
<rect x="742.55" y="452.46" width="29.45" height="34.02" fill="#e4e3f2"/>
<rect x="768.00" y="452.46" width="34.70" height="34.02" fill="#3a53a4"/>
<rect x="802.10" y="452.46" width="28.68" height="34.02" fill="#fde2e2"/>
<rect x="830.18" y="452.46" width="28.68" height="34.02" fill="#c4c0df"/>
<rect x="858.26" y="452.46" width="28.68" height="34.02" fill="#9e9ccc"/>
<rect x="886.34" y="452.46" width="28.68" height="34.02" fill="#fff5f3"/>
<rect x="914.42" y="452.46" width="28.68" height="34.02" fill="#4256a6"/>
<rect x="942.50" y="452.46" width="28.68" height="34.02" fill="#f59b9d"/>
<rect x="970.58" y="452.46" width="28.68" height="34.02" fill="#3a53a4"/>
<rect x="998.66" y="452.46" width="28.68" height="34.02" fill="#ee3a3a"/>
<rect x="1026.74" y="452.46" width="28.68" height="34.02" fill="#5a60ac"/>
<rect x="1054.82" y="452.46" width="28.68" height="34.02" fill="#f5f4fa"/>
<rect x="1082.90" y="452.46" width="28.68" height="34.02" fill="#f48a8c"/>
<rect x="1110.98" y="452.46" width="28.68" height="34.02" fill="#8688c2"/>
<rect x="1139.06" y="452.46" width="28.68" height="34.02" fill="#3a53a4"/>
<rect x="1167.14" y="452.46" width="27.86" height="34.02" fill="#7477b9"/>
<rect x="347.00" y="485.88" width="31.50" height="34.02" fill="#f48a8c"/>
<rect x="377.90" y="485.88" width="28.65" height="34.02" fill="#f05a5c"/>
<rect x="405.95" y="485.88" width="28.65" height="34.02" fill="#ec2024"/>
<rect x="434.00" y="485.88" width="28.65" height="34.02" fill="#ed2a2c"/>
<rect x="462.05" y="485.88" width="28.65" height="34.02" fill="#9e9ccc"/>
<rect x="490.10" y="485.88" width="28.65" height="34.02" fill="#f27676"/>
<rect x="518.15" y="485.88" width="28.65" height="34.02" fill="#e4e3f2"/>
<rect x="546.20" y="485.88" width="28.65" height="34.02" fill="#f06a6a"/>
<rect x="574.25" y="485.88" width="28.65" height="34.02" fill="#fde2e2"/>
<rect x="602.30" y="485.88" width="28.65" height="34.02" fill="#f5f4fa"/>
<rect x="630.35" y="485.88" width="28.65" height="34.02" fill="#ef4848"/>
<rect x="658.40" y="485.88" width="28.65" height="34.02" fill="#ee3a3a"/>
<rect x="686.45" y="485.88" width="28.65" height="34.02" fill="#f6aaac"/>
<rect x="714.50" y="485.88" width="28.65" height="34.02" fill="#8688c2"/>
<rect x="742.55" y="485.88" width="29.45" height="34.02" fill="#f8c4c5"/>
<rect x="768.00" y="485.88" width="34.70" height="34.02" fill="#9e9ccc"/>
<rect x="802.10" y="485.88" width="28.68" height="34.02" fill="#f59b9d"/>
<rect x="830.18" y="485.88" width="28.68" height="34.02" fill="#5a60ac"/>
<rect x="858.26" y="485.88" width="28.68" height="34.02" fill="#4a58a8"/>
<rect x="886.34" y="485.88" width="28.68" height="34.02" fill="#c4c0df"/>
<rect x="914.42" y="485.88" width="28.68" height="34.02" fill="#6466b0"/>
<rect x="942.50" y="485.88" width="28.68" height="34.02" fill="#fff5f3"/>
<rect x="970.58" y="485.88" width="28.68" height="34.02" fill="#3a53a4"/>
<rect x="998.66" y="485.88" width="28.68" height="34.02" fill="#ec2024"/>
<rect x="1026.74" y="485.88" width="28.68" height="34.02" fill="#7477b9"/>
<rect x="1054.82" y="485.88" width="28.68" height="34.02" fill="#fad4d4"/>
<rect x="1082.90" y="485.88" width="28.68" height="34.02" fill="#d8d5ea"/>
<rect x="1110.98" y="485.88" width="28.68" height="34.02" fill="#4f5aa9"/>
<rect x="1139.06" y="485.88" width="28.68" height="34.02" fill="#4256a6"/>
<rect x="1167.14" y="485.88" width="27.86" height="34.02" fill="#3a53a4"/>
<rect x="347.00" y="519.30" width="31.50" height="34.02" fill="#e4e3f2"/>
<rect x="377.90" y="519.30" width="28.65" height="34.02" fill="#ec2024"/>
<rect x="405.95" y="519.30" width="28.65" height="34.02" fill="#ed2a2c"/>
<rect x="434.00" y="519.30" width="28.65" height="34.02" fill="#ec2024"/>
<rect x="462.05" y="519.30" width="28.65" height="34.02" fill="#9e9ccc"/>
<rect x="490.10" y="519.30" width="28.65" height="34.02" fill="#f59b9d"/>
<rect x="518.15" y="519.30" width="28.65" height="34.02" fill="#3a53a4"/>
<rect x="546.20" y="519.30" width="28.65" height="34.02" fill="#f6aaac"/>
<rect x="574.25" y="519.30" width="28.65" height="34.02" fill="#f05a5c"/>
<rect x="602.30" y="519.30" width="28.65" height="34.02" fill="#fff5f3"/>
<rect x="630.35" y="519.30" width="28.65" height="34.02" fill="#f06a6a"/>
<rect x="658.40" y="519.30" width="28.65" height="34.02" fill="#fde2e2"/>
<rect x="686.45" y="519.30" width="28.65" height="34.02" fill="#fad4d4"/>
<rect x="714.50" y="519.30" width="28.65" height="34.02" fill="#8688c2"/>
<rect x="742.55" y="519.30" width="29.45" height="34.02" fill="#ee3a3a"/>
<rect x="768.00" y="519.30" width="34.70" height="34.02" fill="#4256a6"/>
<rect x="802.10" y="519.30" width="28.68" height="34.02" fill="#b0aed6"/>
<rect x="830.18" y="519.30" width="28.68" height="34.02" fill="#f5f4fa"/>
<rect x="858.26" y="519.30" width="28.68" height="34.02" fill="#4f5aa9"/>
<rect x="886.34" y="519.30" width="28.68" height="34.02" fill="#d8d5ea"/>
<rect x="914.42" y="519.30" width="28.68" height="34.02" fill="#c4c0df"/>
<rect x="942.50" y="519.30" width="28.68" height="34.02" fill="#f48a8c"/>
<rect x="970.58" y="519.30" width="28.68" height="34.02" fill="#6466b0"/>
<rect x="998.66" y="519.30" width="28.68" height="34.02" fill="#f8c4c5"/>
<rect x="1026.74" y="519.30" width="28.68" height="34.02" fill="#5a60ac"/>
<rect x="1054.82" y="519.30" width="28.68" height="34.02" fill="#f27676"/>
<rect x="1082.90" y="519.30" width="28.68" height="34.02" fill="#7477b9"/>
<rect x="1110.98" y="519.30" width="28.68" height="34.02" fill="#ef4848"/>
<rect x="1139.06" y="519.30" width="28.68" height="34.02" fill="#3a53a4"/>
<rect x="1167.14" y="519.30" width="27.86" height="34.02" fill="#4256a6"/>
<rect x="347.00" y="552.72" width="31.50" height="35.28" fill="#fad4d4"/>
<rect x="377.90" y="552.72" width="28.65" height="35.28" fill="#f48a8c"/>
<rect x="405.95" y="552.72" width="28.65" height="35.28" fill="#ec2024"/>
<rect x="434.00" y="552.72" width="28.65" height="35.28" fill="#ec2024"/>
<rect x="462.05" y="552.72" width="28.65" height="35.28" fill="#7477b9"/>
<rect x="490.10" y="552.72" width="28.65" height="35.28" fill="#ef4848"/>
<rect x="518.15" y="552.72" width="28.65" height="35.28" fill="#3a53a4"/>
<rect x="546.20" y="552.72" width="28.65" height="35.28" fill="#f27676"/>
<rect x="574.25" y="552.72" width="28.65" height="35.28" fill="#b0aed6"/>
<rect x="602.30" y="552.72" width="28.65" height="35.28" fill="#d8d5ea"/>
<rect x="630.35" y="552.72" width="28.65" height="35.28" fill="#f06a6a"/>
<rect x="658.40" y="552.72" width="28.65" height="35.28" fill="#f05a5c"/>
<rect x="686.45" y="552.72" width="28.65" height="35.28" fill="#fde2e2"/>
<rect x="714.50" y="552.72" width="28.65" height="35.28" fill="#6466b0"/>
<rect x="742.55" y="552.72" width="29.45" height="35.28" fill="#f8c4c5"/>
<rect x="768.00" y="552.72" width="34.70" height="35.28" fill="#9e9ccc"/>
<rect x="802.10" y="552.72" width="28.68" height="35.28" fill="#ed2a2c"/>
<rect x="830.18" y="552.72" width="28.68" height="35.28" fill="#8688c2"/>
<rect x="858.26" y="552.72" width="28.68" height="35.28" fill="#4f5aa9"/>
<rect x="886.34" y="552.72" width="28.68" height="35.28" fill="#d8d5ea"/>
<rect x="914.42" y="552.72" width="28.68" height="35.28" fill="#c4c0df"/>
<rect x="942.50" y="552.72" width="28.68" height="35.28" fill="#fff5f3"/>
<rect x="970.58" y="552.72" width="28.68" height="35.28" fill="#3a53a4"/>
<rect x="998.66" y="552.72" width="28.68" height="35.28" fill="#ee3a3a"/>
<rect x="1026.74" y="552.72" width="28.68" height="35.28" fill="#4a58a8"/>
<rect x="1054.82" y="552.72" width="28.68" height="35.28" fill="#f59b9d"/>
<rect x="1082.90" y="552.72" width="28.68" height="35.28" fill="#f5f4fa"/>
<rect x="1110.98" y="552.72" width="28.68" height="35.28" fill="#f6aaac"/>
<rect x="1139.06" y="552.72" width="28.68" height="35.28" fill="#5a60ac"/>
<rect x="1167.14" y="552.72" width="27.86" height="35.28" fill="#4256a6"/>
<rect x="347.60" y="323.30" width="847.30" height="265.50" fill="none" stroke="#000" stroke-width="4.3"/>
<line x1="769.9" y1="323.30" x2="769.9" y2="588.80" stroke="#000" stroke-width="4.2"/>
<rect x="347.00" y="616.00" width="31.50" height="32.80" fill="#f59b9d"/>
<rect x="377.90" y="616.00" width="28.65" height="32.80" fill="#ed2a2c"/>
<rect x="405.95" y="616.00" width="28.65" height="32.80" fill="#f05a5c"/>
<rect x="434.00" y="616.00" width="28.65" height="32.80" fill="#ee3a3a"/>
<rect x="462.05" y="616.00" width="28.65" height="32.80" fill="#e4e3f2"/>
<rect x="490.10" y="616.00" width="28.65" height="32.80" fill="#f6aaac"/>
<rect x="518.15" y="616.00" width="28.65" height="32.80" fill="#f59b9d"/>
<rect x="546.20" y="616.00" width="28.65" height="32.80" fill="#f27676"/>
<rect x="574.25" y="616.00" width="28.65" height="32.80" fill="#f48a8c"/>
<rect x="602.30" y="616.00" width="28.65" height="32.80" fill="#ffffff"/>
<rect x="630.35" y="616.00" width="28.65" height="32.80" fill="#ee3a3a"/>
<rect x="658.40" y="616.00" width="28.65" height="32.80" fill="#ec2024"/>
<rect x="686.45" y="616.00" width="28.65" height="32.80" fill="#c8c5e2"/>
<rect x="714.50" y="616.00" width="28.65" height="32.80" fill="#5a60ac"/>
<rect x="742.55" y="616.00" width="29.45" height="32.80" fill="#fad4d4"/>
<rect x="768.00" y="616.00" width="34.70" height="32.80" fill="#b4b2da"/>
<rect x="802.10" y="616.00" width="28.68" height="32.80" fill="#f48a8c"/>
<rect x="830.18" y="616.00" width="28.68" height="32.80" fill="#b4b2da"/>
<rect x="858.26" y="616.00" width="28.68" height="32.80" fill="#4a58a8"/>
<rect x="886.34" y="616.00" width="28.68" height="32.80" fill="#6466b0"/>
<rect x="914.42" y="616.00" width="28.68" height="32.80" fill="#4f5aa9"/>
<rect x="942.50" y="616.00" width="28.68" height="32.80" fill="#7477b9"/>
<rect x="970.58" y="616.00" width="28.68" height="32.80" fill="#9e9ccc"/>
<rect x="998.66" y="616.00" width="28.68" height="32.80" fill="#8688c2"/>
<rect x="1026.74" y="616.00" width="28.68" height="32.80" fill="#5a60ac"/>
<rect x="1054.82" y="616.00" width="28.68" height="32.80" fill="#e8e7f3"/>
<rect x="1082.90" y="616.00" width="28.68" height="32.80" fill="#9e9ccc"/>
<rect x="1110.98" y="616.00" width="28.68" height="32.80" fill="#c8c5e2"/>
<rect x="1139.06" y="616.00" width="28.68" height="32.80" fill="#4256a6"/>
<rect x="1167.14" y="616.00" width="27.86" height="32.80" fill="#5a60ac"/>
<rect x="347.00" y="648.20" width="31.50" height="35.30" fill="#f8b8ba"/>
<rect x="377.90" y="648.20" width="28.65" height="35.30" fill="#f05a5c"/>
<rect x="405.95" y="648.20" width="28.65" height="35.30" fill="#ec2024"/>
<rect x="434.00" y="648.20" width="28.65" height="35.30" fill="#ec2024"/>
<rect x="462.05" y="648.20" width="28.65" height="35.30" fill="#9e9ccc"/>
<rect x="490.10" y="648.20" width="28.65" height="35.30" fill="#f06a6a"/>
<rect x="518.15" y="648.20" width="28.65" height="35.30" fill="#9e9ccc"/>
<rect x="546.20" y="648.20" width="28.65" height="35.30" fill="#f05a5c"/>
<rect x="574.25" y="648.20" width="28.65" height="35.30" fill="#d8d5ea"/>
<rect x="602.30" y="648.20" width="28.65" height="35.30" fill="#fee7e7"/>
<rect x="630.35" y="648.20" width="28.65" height="35.30" fill="#ef4848"/>
<rect x="658.40" y="648.20" width="28.65" height="35.30" fill="#f05a5c"/>
<rect x="686.45" y="648.20" width="28.65" height="35.30" fill="#fbd8d8"/>
<rect x="714.50" y="648.20" width="28.65" height="35.30" fill="#7477b9"/>
<rect x="742.55" y="648.20" width="29.45" height="35.30" fill="#f6aaac"/>
<rect x="768.00" y="648.20" width="34.70" height="35.30" fill="#5a60ac"/>
<rect x="802.10" y="648.20" width="28.68" height="35.30" fill="#f8c4c5"/>
<rect x="830.18" y="648.20" width="28.68" height="35.30" fill="#8688c2"/>
<rect x="858.26" y="648.20" width="28.68" height="35.30" fill="#5a60ac"/>
<rect x="886.34" y="648.20" width="28.68" height="35.30" fill="#9e9ccc"/>
<rect x="914.42" y="648.20" width="28.68" height="35.30" fill="#6466b0"/>
<rect x="942.50" y="648.20" width="28.68" height="35.30" fill="#f6aaac"/>
<rect x="970.58" y="648.20" width="28.68" height="35.30" fill="#3a53a4"/>
<rect x="998.66" y="648.20" width="28.68" height="35.30" fill="#f06a6a"/>
<rect x="1026.74" y="648.20" width="28.68" height="35.30" fill="#4f5aa9"/>
<rect x="1054.82" y="648.20" width="28.68" height="35.30" fill="#fee7e7"/>
<rect x="1082.90" y="648.20" width="28.68" height="35.30" fill="#c8c5e2"/>
<rect x="1110.98" y="648.20" width="28.68" height="35.30" fill="#8688c2"/>
<rect x="1139.06" y="648.20" width="28.68" height="35.30" fill="#4256a6"/>
<rect x="1167.14" y="648.20" width="27.86" height="35.30" fill="#4256a6"/>
<rect x="348.90" y="616.00" width="846.00" height="67.90" fill="none" stroke="#000" stroke-width="4.3"/>
<line x1="769.9" y1="616.00" x2="769.9" y2="683.90" stroke="#000" stroke-width="4.2"/>
<text x="-2" y="22.7" font-weight="bold" font-size="41">a</text>
<text x="-1" y="775.7" font-weight="bold" font-size="41">b</text>
<text x="458" y="775.7" font-weight="bold" font-size="41">c</text>
<text x="928.5" y="775.7" font-weight="bold" font-size="41">d</text>
<text x="531" y="26.7" font-size="25.1">Placebo</text>
<text x="910" y="26.7" font-size="25.1">Denosumab</text>
<text x="334.5" y="65.8" text-anchor="end" font-style="italic">Ctsk</text>
<text x="334.5" y="99.4" text-anchor="end" font-style="italic">Calcr</text>
<text x="334.5" y="132.4" text-anchor="end" font-style="italic">Siglec15</text>
<text x="334.5" y="165.6" text-anchor="end" font-style="italic">Acp5</text>
<text x="334.5" y="199.6" text-anchor="end" font-style="italic">Dcstamp</text>
<text x="334.5" y="232.8" text-anchor="end" font-style="italic">Ocstamp</text>
<text x="334.5" y="266.5" text-anchor="end" font-style="italic">Tnfrsf11a</text>
<text x="334.5" y="300.0" text-anchor="end" font-style="italic">Mmp9</text>
<text x="334.5" y="351.5" text-anchor="end" font-style="italic">Col1a1</text>
<text x="334.5" y="381.0" text-anchor="end" font-style="italic">Sparc</text>
<text x="334.5" y="414.2" text-anchor="end" font-style="italic">Sp7</text>
<text x="334.5" y="447.5" text-anchor="end" font-style="italic">Spp1</text>
<text x="334.5" y="481.0" text-anchor="end" font-style="italic">Bglap</text>
<text x="334.5" y="514.5" text-anchor="end" font-style="italic">Ibsp</text>
<text x="334.5" y="548.0" text-anchor="end" font-style="italic">Alpl</text>
<text x="334.5" y="581.5" text-anchor="end" font-style="italic">Gja1</text>
<text x="10" y="164" font-size="25.1">Osteoclast genes</text>
<text x="10" y="442.4" font-size="25.1">Osteoblast genes</text>
<text x="335.4" y="643.3" text-anchor="end" font-size="25.05">Osteoclast genes (rank mean)</text>
<text x="335.4" y="675.4" text-anchor="end" font-size="25.05">Osteoblast genes (rank mean)</text>
<defs><linearGradient id="cb" x1="0" y1="0" x2="0" y2="1"><stop offset="0" stop-color="#ec2024"/><stop offset="0.25" stop-color="#f16a6c"/><stop offset="0.5" stop-color="#ffffff"/><stop offset="0.75" stop-color="#7a7dbc"/><stop offset="1" stop-color="#3a53a4"/></linearGradient></defs>
<rect x="1263.1" y="136.9" width="31.4" height="419.6" fill="url(#cb)" stroke="#000" stroke-width="4.1" stroke-linejoin="round"/>
<text x="1275" y="94.8" text-anchor="middle" font-size="25.1">Higher</text>
<text x="1278.5" y="124.7" text-anchor="middle" font-size="24.9">expression</text>
<text x="1275.6" y="581.9" text-anchor="middle" font-size="25.2">Lower</text>
<text x="1278.5" y="611.5" text-anchor="middle" font-size="24.9">expression</text>
<path d="M111.30 835.40 V1115.30 H392.20" fill="none" stroke="#000" stroke-width="2.3"/>
<line x1="101.00" y1="1115.30" x2="111.30" y2="1115.30" stroke="#000" stroke-width="2.3"/>
<text x="88.90" y="1124.30" text-anchor="end">0</text>
<line x1="111.30" y1="1115.30" x2="111.30" y2="1125.60" stroke="#000" stroke-width="2.3"/>
<text x="111.30" y="1156.60" text-anchor="middle">0</text>
<line x1="101.00" y1="1022.00" x2="111.30" y2="1022.00" stroke="#000" stroke-width="2.3"/>
<text x="88.90" y="1031.00" text-anchor="end">5</text>
<line x1="204.93" y1="1115.30" x2="204.93" y2="1125.60" stroke="#000" stroke-width="2.3"/>
<text x="204.93" y="1156.60" text-anchor="middle">5</text>
<line x1="101.00" y1="928.70" x2="111.30" y2="928.70" stroke="#000" stroke-width="2.3"/>
<text x="88.90" y="937.70" text-anchor="end">10</text>
<line x1="298.57" y1="1115.30" x2="298.57" y2="1125.60" stroke="#000" stroke-width="2.3"/>
<text x="298.57" y="1156.60" text-anchor="middle">10</text>
<line x1="101.00" y1="835.40" x2="111.30" y2="835.40" stroke="#000" stroke-width="2.3"/>
<text x="88.90" y="844.40" text-anchor="end">15</text>
<line x1="392.20" y1="1115.30" x2="392.20" y2="1125.60" stroke="#000" stroke-width="2.3"/>
<text x="392.20" y="1156.60" text-anchor="middle">15</text>
<text x="250.9" y="1197" text-anchor="middle" font-size="25.0">Osteoclast genes (rank mean)</text>
<text transform="translate(41.4 976) rotate(-90)" text-anchor="middle" font-size="25.2">Osteoblast genes (rank mean)</text>
<text x="131" y="830.7"><tspan font-style="italic">R</tspan> = 0.75</text>
<text x="130" y="861.8"><tspan font-style="italic">p</tspan> = 0.002</text>
<circle cx="134.8" cy="1080.1" r="7.75" fill="#000"/>
<circle cx="172.1" cy="1005.5" r="7.75" fill="#000"/>
<circle cx="188.3" cy="1012.2" r="7.75" fill="#000"/>
<circle cx="174.3" cy="1061.6" r="7.75" fill="#000"/>
<circle cx="218.9" cy="979.4" r="7.75" fill="#000"/>
<circle cx="239.6" cy="930.8" r="7.75" fill="#000"/>
<circle cx="256.2" cy="977.8" r="7.75" fill="#000"/>
<circle cx="256.2" cy="1064.0" r="7.75" fill="#000"/>
<circle cx="265.3" cy="1042.8" r="7.75" fill="#000"/>
<circle cx="281.5" cy="909.6" r="7.75" fill="#000"/>
<circle cx="311.8" cy="847.2" r="7.75" fill="#000"/>
<circle cx="335.2" cy="848.9" r="7.75" fill="#000"/>
<circle cx="337.1" cy="904.8" r="7.75" fill="#000"/>
<circle cx="351.6" cy="914.4" r="7.75" fill="#000"/>
<circle cx="387.0" cy="912.0" r="7.75" fill="#000"/>
<line x1="134.1" y1="1066.1" x2="387.5" y2="866.2" stroke="#000" stroke-width="3.4"/>
<path d="M582.50 835.20 V1115.00 H863.30" fill="none" stroke="#000" stroke-width="2.3"/>
<line x1="572.20" y1="1115.00" x2="582.50" y2="1115.00" stroke="#000" stroke-width="2.3"/>
<text x="560.90" y="1124.00" text-anchor="end">0</text>
<line x1="582.50" y1="1115.00" x2="582.50" y2="1125.30" stroke="#000" stroke-width="2.3"/>
<text x="582.50" y="1156.60" text-anchor="middle">0</text>
<line x1="572.20" y1="1021.73" x2="582.50" y2="1021.73" stroke="#000" stroke-width="2.3"/>
<text x="560.90" y="1030.73" text-anchor="end">5</text>
<line x1="676.10" y1="1115.00" x2="676.10" y2="1125.30" stroke="#000" stroke-width="2.3"/>
<text x="676.10" y="1156.60" text-anchor="middle">5</text>
<line x1="572.20" y1="928.47" x2="582.50" y2="928.47" stroke="#000" stroke-width="2.3"/>
<text x="560.90" y="937.47" text-anchor="end">10</text>
<line x1="769.70" y1="1115.00" x2="769.70" y2="1125.30" stroke="#000" stroke-width="2.3"/>
<text x="769.70" y="1156.60" text-anchor="middle">10</text>
<line x1="572.20" y1="835.20" x2="582.50" y2="835.20" stroke="#000" stroke-width="2.3"/>
<text x="560.90" y="844.20" text-anchor="end">15</text>
<line x1="863.30" y1="1115.00" x2="863.30" y2="1125.30" stroke="#000" stroke-width="2.3"/>
<text x="863.30" y="1156.60" text-anchor="middle">15</text>
<text x="722.6" y="1198" text-anchor="middle" font-size="25.1">Gene set rank mean</text>
<text transform="translate(480.4 975) rotate(-90)" text-anchor="middle" font-size="25.1">Suppressed secreted genes</text>
<text transform="translate(509.5 975) rotate(-90)" text-anchor="middle">(rank mean)</text>
<circle cx="617.6" cy="1040.4" r="7.75" fill="#3a54a6"/>
<circle cx="636.0" cy="1040.4" r="7.75" fill="#3a54a6"/>
<circle cx="634.2" cy="1022.0" r="7.75" fill="#3a54a6"/>
<circle cx="654.4" cy="1003.0" r="7.75" fill="#3a54a6"/>
<circle cx="685.3" cy="1003.0" r="7.75" fill="#3a54a6"/>
<circle cx="691.9" cy="984.0" r="7.75" fill="#3a54a6"/>
<circle cx="718.0" cy="965.6" r="7.75" fill="#3a54a6"/>
<circle cx="719.8" cy="984.0" r="7.75" fill="#3a54a6"/>
<circle cx="767.0" cy="947.0" r="7.75" fill="#3a54a6"/>
<circle cx="783.7" cy="947.0" r="7.75" fill="#3a54a6"/>
<circle cx="785.8" cy="927.7" r="7.75" fill="#3a54a6"/>
<circle cx="789.5" cy="927.0" r="7.75" fill="#3a54a6"/>
<circle cx="793.0" cy="926.7" r="7.75" fill="#3a54a6"/>
<circle cx="848.8" cy="890.7" r="7.75" fill="#3a54a6"/>
<circle cx="851.3" cy="909.5" r="7.75" fill="#3a54a6"/>
<line x1="617.6" y1="1033.3" x2="851.3" y2="894.1" stroke="#3a54a6" stroke-width="3.4"/>
<circle cx="607.8" cy="1041.8" r="7.75" fill="#9e1b20"/>
<circle cx="644.9" cy="984.0" r="7.75" fill="#9e1b20"/>
<circle cx="647.3" cy="1042.0" r="7.75" fill="#9e1b20"/>
<circle cx="661.0" cy="1003.0" r="7.75" fill="#9e1b20"/>
<circle cx="691.9" cy="964.4" r="7.75" fill="#9e1b20"/>
<circle cx="712.4" cy="945.3" r="7.75" fill="#9e1b20"/>
<circle cx="728.7" cy="984.0" r="7.75" fill="#9e1b20"/>
<circle cx="728.7" cy="1022.6" r="7.75" fill="#9e1b20"/>
<circle cx="738.2" cy="1003.0" r="7.75" fill="#9e1b20"/>
<circle cx="754.6" cy="925.6" r="7.75" fill="#9e1b20"/>
<circle cx="784.7" cy="905.9" r="7.75" fill="#9e1b20"/>
<circle cx="808.3" cy="887.0" r="7.75" fill="#9e1b20"/>
<circle cx="810.2" cy="925.6" r="7.75" fill="#9e1b20"/>
<circle cx="824.3" cy="944.9" r="7.75" fill="#9e1b20"/>
<circle cx="859.4" cy="925.6" r="7.75" fill="#9e1b20"/>
<line x1="607.5" y1="1031.5" x2="859.6" y2="901.7" stroke="#9e1b20" stroke-width="3.7"/>
<text x="602" y="782.5" fill="#3a54a6">Osteoblast</text>
<text x="603" y="812.2" fill="#3a54a6"><tspan font-style="italic">R</tspan> = 0.98, <tspan font-style="italic">p</tspan> &lt; 0.0001</text>
<text x="602" y="844.7" fill="#c0161e">Osteoclast</text>
<text x="603" y="874.1" fill="#c0161e"><tspan font-style="italic">R</tspan> = 0.75, <tspan font-style="italic">p</tspan> = 0.002</text>
<path d="M1052.40 833.50 V1113.60 H1332.90" fill="none" stroke="#000" stroke-width="2.3"/>
<line x1="1042.10" y1="1113.60" x2="1052.40" y2="1113.60" stroke="#000" stroke-width="2.3"/>
<text x="1030.10" y="1122.60" text-anchor="end">0</text>
<line x1="1052.40" y1="1113.60" x2="1052.40" y2="1123.90" stroke="#000" stroke-width="2.3"/>
<text x="1052.40" y="1156.40" text-anchor="middle">0</text>
<line x1="1042.10" y1="1020.23" x2="1052.40" y2="1020.23" stroke="#000" stroke-width="2.3"/>
<text x="1030.10" y="1029.23" text-anchor="end">5</text>
<line x1="1145.90" y1="1113.60" x2="1145.90" y2="1123.90" stroke="#000" stroke-width="2.3"/>
<text x="1145.90" y="1156.40" text-anchor="middle">5</text>
<line x1="1042.10" y1="926.87" x2="1052.40" y2="926.87" stroke="#000" stroke-width="2.3"/>
<text x="1030.10" y="935.87" text-anchor="end">10</text>
<line x1="1239.40" y1="1113.60" x2="1239.40" y2="1123.90" stroke="#000" stroke-width="2.3"/>
<text x="1239.40" y="1156.40" text-anchor="middle">10</text>
<line x1="1042.10" y1="833.50" x2="1052.40" y2="833.50" stroke="#000" stroke-width="2.3"/>
<text x="1030.10" y="842.50" text-anchor="end">15</text>
<line x1="1332.90" y1="1113.60" x2="1332.90" y2="1123.90" stroke="#000" stroke-width="2.3"/>
<text x="1332.90" y="1156.40" text-anchor="middle">15</text>
<text x="1192.2" y="1197.2" text-anchor="middle" font-size="25.1">Gene set rank mean</text>
<text transform="translate(951 957.4) rotate(-90)" text-anchor="middle" font-size="25.1">Upregulated secreted genes</text>
<text transform="translate(980 957.7) rotate(-90)" text-anchor="middle">(rank mean)</text>
<circle cx="1087.3" cy="945.6" r="7.75" fill="#3a54a6"/>
<circle cx="1103.9" cy="963.9" r="7.75" fill="#3a54a6"/>
<circle cx="1124.5" cy="963.9" r="7.75" fill="#3a54a6"/>
<circle cx="1105.2" cy="983.2" r="7.75" fill="#3a54a6"/>
<circle cx="1153.5" cy="983.1" r="7.75" fill="#3a54a6"/>
<circle cx="1162.0" cy="983.1" r="7.75" fill="#3a54a6"/>
<circle cx="1190.0" cy="964.4" r="7.75" fill="#3a54a6"/>
<circle cx="1187.5" cy="1001.6" r="7.75" fill="#3a54a6"/>
<circle cx="1236.4" cy="926.8" r="7.75" fill="#3a54a6"/>
<circle cx="1253.4" cy="964.4" r="7.75" fill="#3a54a6"/>
<circle cx="1261.9" cy="964.4" r="7.75" fill="#3a54a6"/>
<circle cx="1255.9" cy="982.9" r="7.75" fill="#3a54a6"/>
<circle cx="1257.7" cy="982.9" r="7.75" fill="#3a54a6"/>
<circle cx="1320.9" cy="908.1" r="7.75" fill="#3a54a6"/>
<circle cx="1318.8" cy="964.4" r="7.75" fill="#3a54a6"/>
<line x1="1087.3" y1="975.8" x2="1321" y2="954.6" stroke="#3a54a6" stroke-width="3.4"/>
<circle cx="1074.6" cy="945.0" r="7.75" fill="#9e1b20"/>
<circle cx="1111.5" cy="983.8" r="7.75" fill="#9e1b20"/>
<circle cx="1113.5" cy="983.8" r="7.75" fill="#9e1b20"/>
<circle cx="1128.1" cy="983.8" r="7.75" fill="#9e1b20"/>
<circle cx="1158.2" cy="1002.6" r="7.75" fill="#9e1b20"/>
<circle cx="1179.4" cy="925.1" r="7.75" fill="#9e1b20"/>
<circle cx="1194.9" cy="964.0" r="7.75" fill="#9e1b20"/>
<circle cx="1205.1" cy="964.0" r="7.75" fill="#9e1b20"/>
<circle cx="1221.1" cy="983.5" r="7.75" fill="#9e1b20"/>
<circle cx="1251.2" cy="905.9" r="7.75" fill="#9e1b20"/>
<circle cx="1275.7" cy="964.0" r="7.75" fill="#9e1b20"/>
<circle cx="1276.7" cy="964.0" r="7.75" fill="#9e1b20"/>
<circle cx="1291.2" cy="964.0" r="7.75" fill="#9e1b20"/>
<circle cx="1325.6" cy="983.5" r="7.75" fill="#9e1b20"/>
<line x1="1074.6" y1="970.9" x2="1326" y2="960.1" stroke="#9e1b20" stroke-width="3.7"/>
<text x="1072" y="782.5" fill="#3a54a6">Osteoblast</text>
<text x="1073" y="812.2" fill="#3a54a6"><tspan font-style="italic">R</tspan> = 0.16, <tspan font-style="italic">p</tspan> = 0.575</text>
<text x="1072" y="844.7" fill="#c0161e">Osteoclast</text>
<text x="1073" y="874.1" fill="#c0161e"><tspan font-style="italic">R</tspan> = 0.16, <tspan font-style="italic">p</tspan> = 0.558</text>
</svg>
</body></html>
